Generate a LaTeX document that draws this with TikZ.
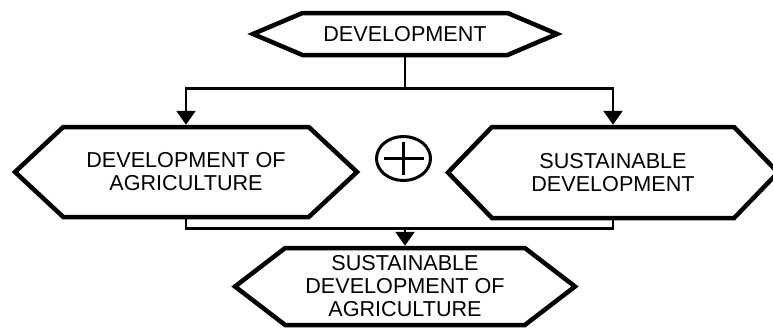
\documentclass[tikz,border=0pt]{standalone}
\usepackage{fontspec}
\setmainfont{Liberation Sans}
\usetikzlibrary{shapes.symbols,shapes.geometric,arrows.meta}

\tikzset{
	hexa/.style={signal, signal to=west and east, draw, line width=4.5pt,
		align=center, inner sep=0pt, font=\fontsize{21.6}{23}\selectfont},
	link/.style={line width=2.5pt},
	arrow/.style={link, -{Triangle[width=19pt,length=14pt]}},
}

\begin{document}
\begin{tikzpicture}[x=1pt,y=-1pt]
	\useasboundingbox (0,0) rectangle (773,327);

	% boxes
	\node[hexa, signal pointer angle=46, minimum width=304pt, minimum height=42pt] (dev) at (405,34) {DEVELOPMENT};
	\node[hexa, signal pointer angle=86, minimum width=342pt, minimum height=90pt] (agri) at (186,172) {DEVELOPMENT OF\\AGRICULTURE};
	\node[hexa, signal pointer angle=92, minimum width=330pt, minimum height=91pt] (sust) at (613,172.5) {SUSTAINABLE\\DEVELOPMENT};
	\node[hexa, signal pointer angle=75, minimum width=340pt, minimum height=77pt] (sda) at (405,286.5) {SUSTAINABLE\\DEVELOPMENT OF\\AGRICULTURE};

	% the plus sign between the two boxes
	\node[draw, ellipse, line width=3pt, minimum width=54pt, minimum height=44pt, inner sep=0pt] (oplus) at (403.5,158.5) {};
	\draw[line width=3pt] ([xshift=-20pt]oplus.center) -- ([xshift=20pt]oplus.center);
	\draw[line width=3pt] ([yshift=16.5pt]oplus.center) -- ([yshift=-16.5pt]oplus.center);

	% split
	\draw[link] (dev.south) -- ++(0,31) coordinate (split);
	\draw[arrow] (split) -| (agri.north);
	\draw[arrow] (split) -| (sust.north);

	% join
	\draw[link] (agri.south) -- ++(0,9) coordinate (join) -| (sust.south);
	\draw[arrow] (join -| sda.north) -- (sda.north);

\end{tikzpicture}
\end{document}
